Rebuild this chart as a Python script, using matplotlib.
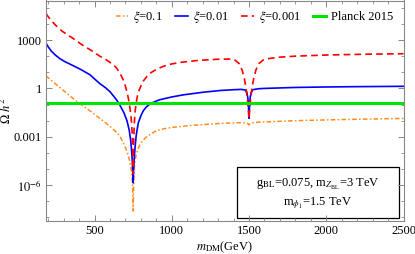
import matplotlib
matplotlib.use('Agg')
import matplotlib.pyplot as plt
import numpy as np
from matplotlib.patches import Rectangle
from matplotlib.ticker import FixedLocator, NullFormatter

plt.rcParams['font.family'] = ['Liberation Serif', 'DejaVu Serif']
plt.rcParams['mathtext.fontset'] = 'stix'
plt.rcParams['font.size'] = 9

# log10(Omega h^2), per xi
m_red = [186, 200, 220, 250, 290, 361, 420, 480, 534, 580, 610, 640, 665, 690, 707, 720, 729, 736,
         741, 745, 748, 750, 752, 754.5, 757, 761, 768, 776, 783, 800, 815, 840, 869, 910, 955,
         1000, 1070, 1176, 1300, 1380, 1410, 1435, 1455, 1470, 1482, 1491, 1497, 1500, 1503,
         1509, 1518, 1530, 1545, 1565, 1590, 1620, 1700, 1800, 2000, 2250, 2500]
lg_red = [4.65, 4.45, 4.2, 3.9, 3.55, 3.1, 2.7, 2.35, 2.0, 1.75, 1.55, 1.3, 0.95, 0.45, -0.1, -0.65, -1.2, -1.7,
          -2.3, -3.0, -4.0, -5.3, -4.0, -3.0, -2.3, -1.6, -1.0, -0.55, -0.25, 0.15, 0.45, 0.75, 1.0, 1.23, 1.4,
          1.52, 1.63, 1.74, 1.81, 1.82, 1.75, 1.55, 1.15, 0.6, -0.05, -0.8, -1.5, -1.9, -1.5,
          -0.8, -0.05, 0.6, 1.15, 1.55, 1.75, 1.84, 1.94, 2.0, 2.07, 2.12, 2.15]

m_blue = [186, 200, 220, 245, 275, 310, 360, 410, 470, 534, 570, 600, 642, 665, 690, 710, 725, 735,
          742, 746, 748.5, 750, 751.5, 754, 758, 763, 770, 783, 800, 815, 835, 858, 890, 923, 1000,
          1074, 1200, 1312, 1400, 1450, 1475, 1486, 1492, 1496, 1498.5, 1500, 1501.5, 1504, 1508,
          1514, 1525, 1560, 1600, 1800, 2000, 2200, 2500]
lg_blue = [2.8, 2.58, 2.32, 2.08, 1.85, 1.65, 1.42, 1.18, 0.85, 0.3, 0.05, -0.2, -0.7, -1.05, -1.5, -2.0, -2.6, -3.3,
           -4.1, -4.8, -5.4, -5.85, -5.4, -4.8, -4.2, -3.6, -2.9, -2.15, -1.7, -1.4, -1.15, -0.97, -0.82, -0.7, -0.53,
           -0.4, -0.24, -0.13, -0.08, -0.06, -0.1, -0.25, -0.55, -1.0, -1.5, -1.85, -1.5, -1.0, -0.55,
           -0.25, -0.08, -0.02, 0.0, 0.06, 0.09, 0.11, 0.13]

m_orange = [186, 220, 260, 300, 361, 420, 469, 534, 600, 640, 664, 690, 710, 725, 735, 742, 746, 748.5,
            750, 751.5, 754, 758, 764, 772, 793, 815, 837, 870, 902, 950, 1000, 1117, 1312, 1450,
            1485, 1495, 1500, 1505, 1515, 1550, 1800, 2100, 2500]
lg_orange = [0.78, 0.5, 0.18, -0.14, -0.62, -1.05, -1.38, -1.85, -2.35, -2.7, -2.95, -3.45, -3.9, -4.4, -4.85, -5.35, -6.0, -6.8,
             -7.6, -6.8, -5.8, -4.9, -4.4, -4.0, -3.5, -3.2, -3.0, -2.78, -2.62, -2.5, -2.42, -2.3, -2.17, -2.12,
             -2.14, -2.2, -2.27, -2.2, -2.14, -2.1, -2.0, -1.93, -1.86]

planck = 0.12

fig = plt.figure(figsize=(4.15, 2.54), dpi=100)
ax = fig.add_axes([46 / 415, 1 - 220.7 / 254, 357.5 / 415, 220.2 / 254])

ax.plot(m_orange, 10 ** np.array(lg_orange), color='#ff8c1a', lw=1.1,
        dashes=[3, 1.5, 1, 1.5], label=r'$\xi$=0.1')
ax.plot(m_blue, 10 ** np.array(lg_blue), color='#0000ff', lw=1.2, label=r'$\xi$=0.01')
ax.plot(m_red, 10 ** np.array(lg_red), color='#ff0000', lw=1.2,
        dashes=[4, 2.5], label=r'$\xi$=0.001')
ax.axhline(planck, color='#00e600', lw=2.2, label='Planck 2015')

ax.set_yscale('log')
ax.set_xlim(186, 2500)
ax.set_ylim(10 ** -8.2, 10 ** 5.45)

ax.xaxis.set_major_locator(FixedLocator([500, 1000, 1500, 2000, 2500]))
ax.xaxis.set_minor_locator(FixedLocator(np.arange(200, 2501, 100)))
ax.yaxis.set_major_locator(FixedLocator([1e-6, 1e-3, 1, 1e3]))
ax.yaxis.set_minor_locator(FixedLocator([10.0 ** k for k in range(-8, 6)]))
ax.yaxis.set_minor_formatter(NullFormatter())
ax.set_yticklabels([r'$10^{-6}$', '0.001', '1', '1000'])

ax.tick_params(which='both', direction='in', top=True, right=True, color='#888888', labelsize=9, pad=3)
ax.tick_params(which='major', length=4.5, width=0.7)
ax.tick_params(which='minor', length=2.5, width=0.6)
for s in ax.spines.values():
    s.set_color('#888888')
    s.set_linewidth(0.8)

ax.set_xlabel(r'$m_{\rm DM}$(GeV)', fontsize=9, labelpad=2)
ax.set_ylabel(r'$\Omega\ h^2$', fontsize=9)
ax.yaxis.set_label_coords(-0.09, 0.5)

ax.legend(loc='upper right', ncol=4, frameon=False, fontsize=9, handlelength=1.0,
          handletextpad=0.4, columnspacing=1.0, bbox_to_anchor=(0.995, 1.0), borderaxespad=0.3)

box = Rectangle((0.534, 0.012), 0.453, 0.23, transform=ax.transAxes, fill=False,
                edgecolor='black', lw=0.9)
ax.add_patch(box)
ax.text(0.7605, 0.165, r'g$_{\rm BL}$=0.075, m$_{Z_{\rm BL}}$=3 TeV', transform=ax.transAxes,
        ha='center', va='center', fontsize=9)
ax.text(0.7605, 0.08, r'm$_{\phi_1}$=1.5 TeV', transform=ax.transAxes,
        ha='center', va='center', fontsize=9)

fig.savefig('out.png', dpi=100)
